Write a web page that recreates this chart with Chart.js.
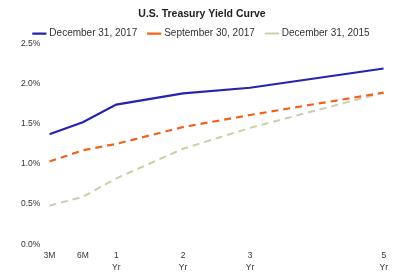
<!DOCTYPE html>
<html lang="en">
<head>
  <meta charset="UTF-8">
  <title>U.S. Treasury Yield Curve</title>
  <script src="https://cdn.jsdelivr.net/npm/chart.js"></script>
  <style>
    html, body { margin: 0; padding: 0; background: #fff; }
    #box { width: 394px; height: 274px; }
  </style>
</head>
<body>
  <div id="box"><canvas id="curva"></canvas></div>
<script>
  // tenors, placed on the chart axis in months (3M drawn at the axis start)
  const tenorLabels = ['3M', '6M', ['1', 'Yr'], ['2', 'Yr'], ['3', 'Yr'], ['5', 'Yr']];
  const tenorAxis = [0, 6, 12, 24, 36, 60];

  const yieldDec2017 = [1.37, 1.52, 1.74, 1.88, 1.95, 2.19];
  const yieldSep2017 = [1.03, 1.17, 1.25, 1.46, 1.61, 1.89];
  const yieldDec2015 = [0.48, 0.59, 0.82, 1.19, 1.45, 1.89];

  const yTicks = [0, 0.5, 1.0, 1.5, 2.0, 2.5];

  function pares(valores) {
    return valores.map((v, i) => ({ x: tenorAxis[i], y: v }));
  }

  const ctx = document.getElementById('curva').getContext('2d');
  Chart.defaults.font.family = '"Liberation Sans", Arial, sans-serif';
  Chart.defaults.color = '#333';

  new Chart(ctx, {
    type: 'line',
    data: {
      datasets: [{
        label: 'December 31, 2017',
        data: pares(yieldDec2017),
        borderColor: '#2424ac',
        borderWidth: 2.2,
        pointRadius: 0,
        tension: 0
      }, {
        label: 'September 30, 2017',
        data: pares(yieldSep2017),
        borderColor: '#f0621e',
        borderWidth: 2.2,
        borderDash: [7, 5],
        pointRadius: 0,
        tension: 0
      }, {
        label: 'December 31, 2015',
        data: pares(yieldDec2015),
        borderColor: '#c8cfaa',
        borderWidth: 2,
        borderDash: [7, 5],
        pointRadius: 0,
        tension: 0
      }]
    },
    options: {
      responsive: true,
      maintainAspectRatio: false,
      animation: false,
      layout: { padding: { left: 20, right: 10, top: 0, bottom: -6 } },
      plugins: {
        title: {
          display: true,
          text: 'U.S. Treasury Yield Curve',
          color: '#222',
          font: { size: 10.5, weight: 'bold' },
          padding: { top: 8, bottom: -4 }
        },
        legend: {
          position: 'top',
          maxHeight: 27,
          labels: {
            usePointStyle: true,
            pointStyle: 'line',
            boxWidth: 30,
            padding: 12,
            color: '#333',
            font: { size: 10 }
          }
        },
        tooltip: { enabled: false }
      },
      scales: {
        x: {
          type: 'linear',
          min: 0,
          max: 60,
          afterBuildTicks: function (axis) {
            axis.ticks = tenorAxis.map(v => ({ value: v }));
          },
          ticks: {
            autoSkip: false,
            maxRotation: 0,
            font: { size: 8.5, lineHeight: 1.4 },
            color: '#333',
            padding: 6,
            callback: function (value) {
              const i = tenorAxis.indexOf(value);
              return i >= 0 ? tenorLabels[i] : '';
            }
          },
          grid: { display: false, drawTicks: false },
          border: { display: false }
        },
        y: {
          min: 0,
          max: 2.5,
          afterBuildTicks: function (axis) {
            axis.ticks = yTicks.map(v => ({ value: v }));
          },
          ticks: {
            font: { size: 8.5 },
            color: '#333',
            padding: 1,
            callback: function (value) {
              return value.toFixed(1) + '%';
            }
          },
          grid: { display: false },
          border: { display: false }
        }
      }
    }
  });
</script>
</body>
</html>
